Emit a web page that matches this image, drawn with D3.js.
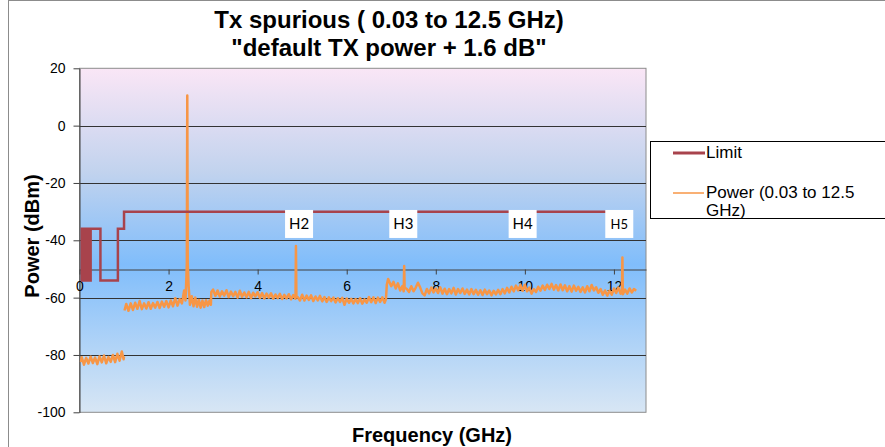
<!DOCTYPE html>
<html lang="en">
<head>
<meta charset="UTF-8">
<title>Tx spurious</title>
<script src="https://d3js.org/d3.v7.min.js"></script>
<style>
  body { margin: 0; background: #fff; font-family: "Liberation Sans", Arial, sans-serif; }
  .axis text { font-size: 14px; fill: #000; font-family: "Liberation Sans", Arial, sans-serif; }
  .axis path, .axis line { stroke: #404040; }
  .grid-line { stroke: #333; stroke-width: 1; }
  .title { font-size: 24px; font-weight: bold; }
  .axis-title { font-size: 20px; font-weight: bold; }
  .legend text { font-size: 17px; }
  .harm text { font-family: Lato, "Open Sans", sans-serif; }
</style>
</head>
<body>
<div id="chart"></div>
<script>
const xTicks = [0, 2, 4, 6, 8, 10, 12];
const yTicks = [-100, -80, -60, -40, -20, 0, 20];

// limit mask (GHz, dBm) - stepped
const limitFreq = [0.03, 0.05, 0.07, 0.09, 0.11, 0.13, 0.15, 0.17, 0.19, 0.21, 0.23, 0.25, 0.47, 0.862, 1.0, 11.9];
const limitDb = [-54, -36, -54, -36, -54, -36, -54, -36, -54, -36, -54, -36, -54, -36, -30, -30];

// measured power trace (null = gap between sweeps)
const powerFreq = [
  0.03, 0.05, 0.10, 0.15, 0.20, 0.25, 0.30, 0.35, 0.40, 0.45,
  0.50, 0.55, 0.60, 0.65, 0.70, 0.75, 0.80, 0.85, 0.90, 0.95,
  0.99, 1.00, 1.005, 1.01,
  1.05, 1.10, 1.15, 1.20, 1.25, 1.30, 1.35, 1.40, 1.45, 1.50,
  1.55, 1.60, 1.65, 1.70, 1.75, 1.80, 1.85, 1.90, 1.95, 2.00,
  2.05, 2.10, 2.15, 2.20, 2.25, 2.30, 2.35, 2.38, 2.40, 2.41,
  2.42, 2.43, 2.45, 2.48, 2.52, 2.56, 2.60, 2.64, 2.68, 2.72,
  2.76, 2.80, 2.84, 2.88, 2.92, 2.95, 2.96,
  3.00, 3.05, 3.10, 3.15, 3.20, 3.25, 3.30, 3.35, 3.40, 3.45,
  3.50, 3.55, 3.60, 3.65, 3.70, 3.75, 3.80, 3.85, 3.90, 3.95,
  4.00, 4.05, 4.10, 4.15, 4.20, 4.25, 4.30, 4.35, 4.40, 4.45,
  4.50, 4.55, 4.60, 4.65, 4.70, 4.75, 4.80, 4.85, 4.86, 4.87,
  4.90, 4.95,
  5.00, 5.05, 5.10, 5.15, 5.20, 5.25, 5.30, 5.35, 5.40, 5.45,
  5.50, 5.55, 5.60, 5.65, 5.70, 5.75, 5.80, 5.85, 5.90, 5.95,
  6.00, 6.05, 6.10, 6.15, 6.20, 6.25, 6.30, 6.35, 6.40, 6.45,
  6.50, 6.55, 6.60, 6.65, 6.70, 6.75, 6.80, 6.85, 6.88, 6.90,
  6.93, 7.00, 7.05, 7.10, 7.15, 7.20, 7.25, 7.28, 7.29, 7.30,
  7.35, 7.40, 7.45, 7.50, 7.55, 7.60, 7.65, 7.70, 7.75, 7.80,
  7.85, 7.90, 7.95, 8.00, 8.05, 8.10, 8.15, 8.20, 8.25, 8.30,
  8.35, 8.40, 8.45, 8.50, 8.55, 8.60, 8.65, 8.70, 8.75, 8.80,
  8.85, 8.90, 8.95, 9.00, 9.05, 9.10, 9.15, 9.20, 9.25, 9.30,
  9.35, 9.40, 9.45, 9.50, 9.55, 9.60, 9.65, 9.70, 9.75, 9.80,
  9.85, 9.90, 9.95, 10.00, 10.05, 10.10, 10.15, 10.20, 10.25, 10.30,
  10.35, 10.40, 10.45, 10.50, 10.55, 10.60, 10.65, 10.70, 10.75, 10.80,
  10.85, 10.90, 10.95, 11.00, 11.05, 11.10, 11.15, 11.20, 11.25, 11.30,
  11.35, 11.40, 11.45, 11.50, 11.55, 11.60, 11.65, 11.70, 11.75, 11.80,
  11.85, 11.90, 11.95, 12.00, 12.05, 12.10, 12.15, 12.18, 12.19, 12.20,
  12.25, 12.30, 12.35, 12.40, 12.45, 12.50
];
const powerDb = [
  -82.5, -80.8, -83.4, -81.0, -83.0, -80.6, -82.8, -80.9, -83.2, -80.5,
  -82.6, -80.2, -82.9, -80.7, -82.4, -80.0, -82.5, -79.6, -82.0, -78.8,
  -81.5, -80.5, null, -64.5,
  -62.2, -64.6, -62.0, -64.3, -61.8, -63.9, -61.2, -64.0, -62.0, -63.8,
  -61.6, -63.9, -61.9, -63.5, -61.5, -63.6, -61.4, -63.2, -61.2, -63.4,
  -61.0, -63.0, -60.2, -62.8, -60.5, -62.0, -57.5, -61.0, -53.0, -48.0,
  10.5, -48.0, -56.0, -62.5, -59.5, -63.0, -60.0, -63.2, -60.8, -63.5,
  -61.0, -63.3, -60.9, -62.8, -61.0, -62.5, -58.0,
  -57.2, -59.4, -57.5, -59.6, -57.8, -59.3, -57.4, -59.8, -57.9, -59.5,
  -58.0, -60.0, -57.6, -59.7, -58.2, -59.9, -58.0, -60.2, -58.3, -59.6,
  -58.1, -60.1, -58.4, -60.3, -58.6, -60.0, -58.5, -60.4, -58.9, -60.2,
  -58.7, -60.5, -59.0, -60.3, -58.8, -60.6, -59.1, -60.4, -42.0, -59.5,
  -59.8, -61.0,
  -59.0, -61.0, -59.3, -60.8, -59.2, -61.2, -59.6, -61.0, -59.4, -61.3,
  -59.8, -61.5, -59.9, -61.2, -60.0, -61.7, -60.2, -61.5, -60.1, -62.5,
  -60.3, -61.8, -60.4, -62.0, -60.5, -61.9, -60.2, -62.1, -60.6, -61.8,
  -59.8, -61.6, -59.9, -61.9, -60.0, -61.5, -59.9, -61.8, -60.6, -55.5,
  -53.5, -56.0, -54.5, -56.8, -55.0, -57.5, -56.0, -57.8, -49.0, -56.5,
  -57.0, -58.0, -56.0, -57.8, -56.5, -54.8, -56.5, -58.5, -59.2, -57.0,
  -58.5, -56.5, -58.2, -56.8, -58.4, -56.4, -58.6, -56.9, -58.8, -57.0,
  -58.5, -56.6, -58.9, -57.0, -58.4, -56.8, -58.7, -57.2, -58.9, -57.0,
  -58.8, -57.3, -59.0, -57.4, -59.1, -57.2, -58.8, -57.5, -59.2, -57.6,
  -58.9, -57.3, -58.8, -57.0, -58.5, -56.6, -58.2, -56.2, -57.8, -55.8,
  -57.5, -55.6, -57.6, -55.5, -57.8, -56.5, -58.6, -57.0, -58.0, -56.2,
  -57.6, -55.8, -57.3, -55.5, -57.0, -55.2, -57.2, -55.6, -57.5, -55.4,
  -57.4, -55.7, -57.8, -56.0, -57.9, -55.8, -57.6, -56.2, -58.0, -56.4,
  -58.2, -56.0, -57.8, -55.6, -57.5, -56.4, -58.3, -57.0, -59.0, -57.5,
  -59.3, -57.6, -59.0, -56.8, -58.4, -56.5, -58.6, -58.0, -46.0, -58.8,
  -57.2, -58.6, -56.8, -58.2, -57.0, -57.6
];

// harmonic markers
const harmonicNames = ["H2", "H3", "H4", "H5"];
const harmonicFreq = [4.93, 7.27, 9.95, 12.12];
const harmonicDb = [-34.3, -34.3, -34.3, -34.3];

const width = 885, height = 447;
const plot = { left: 79.5, right: 646, top: 68.3, bottom: 412.3 };

const svg = d3.select('#chart').append('svg')
  .attr('width', width)
  .attr('height', height);

// outer chart border
svg.append('rect')
  .attr('x', 8.5).attr('y', 0.5)
  .attr('width', width).attr('height', height)
  .attr('fill', 'none').attr('stroke', '#8c8c8c');

const defs = svg.append('defs');
const grad = defs.append('linearGradient')
  .attr('id', 'bg').attr('x1', 0).attr('y1', 0).attr('x2', 0).attr('y2', 1);
grad.append('stop').attr('offset', '0%').attr('stop-color', '#fae6f6');
grad.append('stop').attr('offset', '30%').attr('stop-color', '#c2d3ee');
grad.append('stop').attr('offset', '57%').attr('stop-color', '#80bdfb');
grad.append('stop').attr('offset', '100%').attr('stop-color', '#d8e6f4');

defs.append('clipPath').attr('id', 'clip')
  .append('rect')
  .attr('x', plot.left).attr('y', plot.top)
  .attr('width', plot.right - plot.left).attr('height', plot.bottom - plot.top);

const x = d3.scaleLinear().domain([0, 12.72]).range([plot.left, plot.right]);
const y = d3.scaleLinear().domain([-100, 20]).range([plot.bottom, plot.top]);

svg.append('rect')
  .attr('x', plot.left).attr('y', plot.top)
  .attr('width', plot.right - plot.left).attr('height', plot.bottom - plot.top)
  .attr('fill', 'url(#bg)')
  .attr('stroke', '#8c8c8c');

// horizontal grid lines
svg.selectAll('.grid-line')
  .data(yTicks.filter(d => d > -100 && d < 20))
  .enter().append('line')
  .attr('class', 'grid-line')
  .attr('x1', plot.left).attr('x2', plot.right)
  .attr('y1', d => Math.round(y(d)) + 0.5)
  .attr('y2', d => Math.round(y(d)) + 0.5);

// y axis
svg.append('g')
  .attr('class', 'axis')
  .attr('transform', `translate(${plot.left},0)`)
  .call(d3.axisLeft(y).tickValues(yTicks).tickFormat(d => String(d))
    .tickSizeInner(6).tickSizeOuter(0).tickPadding(8));

// x axis crosses at -50 dBm
svg.append('g')
  .attr('class', 'axis')
  .attr('transform', `translate(0,${Math.round(y(-50)) + 0.5})`)
  .call(d3.axisBottom(x).tickValues(xTicks).tickFormat(d => String(d))
    .tickSizeInner(5).tickSizeOuter(0).tickPadding(7));

const body = svg.append('g').attr('clip-path', 'url(#clip)');

const powerData = powerFreq.map((f, i) => ({ f: f, v: powerDb[i] }));
const limitData = limitFreq.map((f, i) => ({ f: f, v: limitDb[i] }));

body.append('path')
  .datum(powerData)
  .attr('fill', 'none')
  .attr('stroke', '#f79646')
  .attr('stroke-width', 2.5)
  .attr('stroke-linejoin', 'round')
  .attr('d', d3.line().defined(d => d.v !== null).x(d => x(d.f)).y(d => y(d.v)));

body.append('path')
  .datum(limitData)
  .attr('fill', 'none')
  .attr('stroke', '#a8434c')
  .attr('stroke-width', 2.5)
  .attr('d', d3.line().x(d => x(d.f)).y(d => y(d.v)).curve(d3.curveStepAfter));

// harmonic boxes
const harm = svg.selectAll('.harm')
  .data(harmonicNames)
  .enter().append('g')
  .attr('class', 'harm')
  .attr('transform', (d, i) => `translate(${x(harmonicFreq[i])},${y(harmonicDb[i])})`);
harm.append('rect')
  .attr('x', -14).attr('y', -14).attr('width', 28).attr('height', 28)
  .attr('fill', '#fff');
harm.append('text')
  .attr('text-anchor', 'middle')
  .attr('dy', '0.36em')
  .style('font-size', d => d === 'H5' ? '13px' : '15px')
  .text(d => d);

// titles
const title = svg.append('text')
  .attr('class', 'title')
  .attr('text-anchor', 'middle');
title.append('tspan').attr('x', 389).attr('y', 28).text('Tx spurious ( 0.03 to 12.5 GHz)');
title.append('tspan').attr('x', 389).attr('y', 56).text('"default TX power + 1.6 dB"');

svg.append('text')
  .attr('class', 'axis-title')
  .attr('text-anchor', 'middle')
  .attr('transform', 'translate(39,236) rotate(-90)')
  .text('Power (dBm)');

svg.append('text')
  .attr('class', 'axis-title')
  .attr('text-anchor', 'middle')
  .attr('x', 432).attr('y', 442)
  .text('Frequency (GHz)');

// legend
const legend = svg.append('g').attr('class', 'legend');
legend.append('rect')
  .attr('x', 650.5).attr('y', 141.5)
  .attr('width', 260).attr('height', 77)
  .attr('fill', '#fff').attr('stroke', '#000');
legend.append('line')
  .attr('x1', 673).attr('x2', 705).attr('y1', 153).attr('y2', 153)
  .attr('stroke', '#a8434c').attr('stroke-width', 3);
legend.append('text').attr('x', 706).attr('y', 158).text('Limit');
legend.append('line')
  .attr('x1', 673).attr('x2', 704).attr('y1', 193).attr('y2', 193)
  .attr('stroke', '#f79646').attr('stroke-width', 1.5);
const lt = legend.append('text');
lt.append('tspan').attr('x', 706).attr('y', 198).text('Power (0.03 to 12.5');
lt.append('tspan').attr('x', 706).attr('y', 216).text('GHz)');
</script>
</body>
</html>
